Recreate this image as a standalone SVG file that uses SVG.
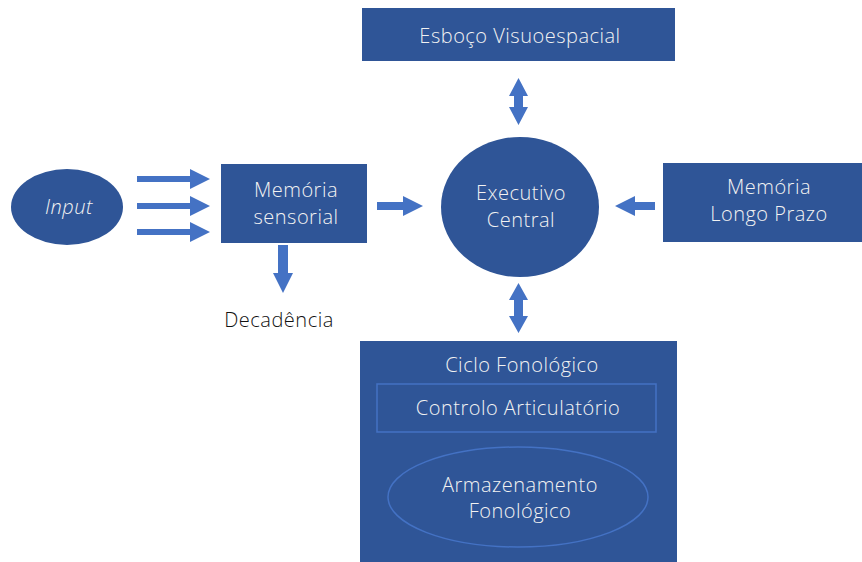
<svg xmlns="http://www.w3.org/2000/svg" width="862" height="562" viewBox="0 0 862 562">
<style>
.n{fill:#2F5597}
.a{fill:#4472C4}
.t{font-family:"Open Sans","Noto Sans",sans-serif;font-size:20px;letter-spacing:0.5px;fill:#F2F2F2;text-anchor:middle;font-weight:300}
.in{stroke:#4472C4;stroke-width:1.5;fill:none}
</style>
<rect width="862" height="562" fill="#fff"/>
<g id="esboco"><rect class="n" x="362" y="8" width="313" height="53"/><text class="t" x="520" y="43">Esboço Visuoespacial</text></g>
<g id="executivo"><ellipse class="n" cx="520" cy="207" rx="79" ry="70"/><text class="t" x="521" y="200">Executivo</text><text class="t" x="521" y="227">Central</text></g>
<g id="input"><ellipse class="n" cx="67" cy="207" rx="56" ry="38"/><text class="t" x="69" y="214" font-style="italic">Input</text></g>
<g id="sensorial"><rect class="n" x="221" y="164" width="146" height="79"/><text class="t" x="296" y="197">Memória</text><text class="t" x="296" y="224">sensorial</text></g>
<g id="longo"><rect class="n" x="663" y="163" width="199" height="79"/><text class="t" x="769" y="194">Memória</text><text class="t" x="769" y="221">Longo Prazo</text></g>
<g id="decadencia"><text x="279" y="327" font-family="'Open Sans','Noto Sans',sans-serif" font-size="20" letter-spacing="0.5" font-weight="300" fill="#111" text-anchor="middle">Decadência</text></g>
<g id="ciclo"><rect class="n" x="360" y="341" width="317" height="221"/><text class="t" x="522" y="372">Ciclo Fonológico</text>
<g id="controlo"><rect class="in" x="377" y="384" width="279" height="48"/><text class="t" x="518" y="415">Controlo Articulatório</text></g>
<g id="armazenamento"><ellipse class="in" cx="518" cy="497" rx="130" ry="50"/><text class="t" x="520" y="492">Armazenamento</text><text class="t" x="520" y="518">Fonológico</text></g></g>
<g id="connectors">
<polygon class="a" points="137,176 190,176 190,169 210,179 190,189 190,182 137,182"/>
<polygon class="a" points="137,203 190,203 190,196 210,206 190,216 190,209 137,209"/>
<polygon class="a" points="137,229 190,229 190,222 210,232 190,242 190,235 137,235"/>
<polygon class="a" points="278,245 288,245 288,273 293,273 283,293 273,273 278,273"/>
<polygon class="a" points="377,202 403,202 403,196 423,206 403,216 403,210 377,210"/>
<polygon class="a" points="655,202 635,202 635,196 615,206 635,216 635,210 655,210"/>
<polygon class="a" points="518.5,78 528,96 523,96 523,107 528,107 518.5,125 509,107 514,107 514,96 509,96"/>
<polygon class="a" points="518.5,283 528,300 523,300 523,316 528,316 518.5,333 509,316 514,316 514,300 509,300"/>
</g>
</svg>
